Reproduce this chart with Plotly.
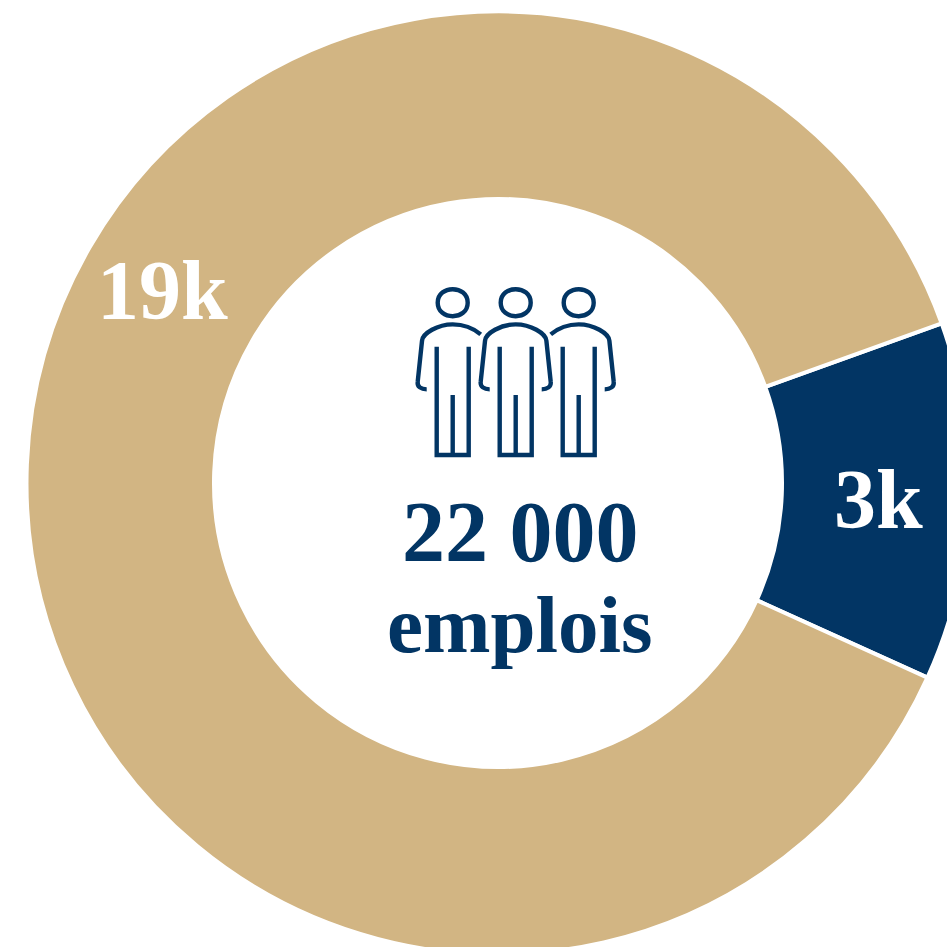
import plotly.graph_objects as go

segment_names = ["Segment bleu", "Segment or"]
segment_values = [2.7, 19.3]
segment_colors = ["#023564", "#D2B583"]
segment_labels = ["3k", "19k"]
total_label = "22 000"
unit_label = "emplois"

SIZE = 1000
CX, CY, R = 498, 483, 471.5
HOLE = 284 / 471.5
NAVY = "#023564"
SERIF = "Liberation Serif"


def person_path(cx, left_arm=True, right_arm=True):
    """Outline of one figure; offsets are in reference pixels from the figure's axis."""
    top, head_rx, head_ry = 302.7, 15, 13.5
    p = (f"M {cx-head_rx} {top} C {cx-head_rx} {top-18}, {cx+head_rx} {top-18}, {cx+head_rx} {top} "
         f"C {cx+head_rx} {top+18}, {cx-head_rx} {top+18}, {cx-head_rx} {top} Z ")
    y = lambda v: 280 + v / 3
    d = lambda v: v / 3
    if left_arm:
        p += (f"M {cx-d(78)} {y(328)} C {cx-d(95)} {y(328)}, {cx-d(107)} {y(320)}, {cx-d(105)} {y(305)} "
              f"L {cx-d(92)} {y(182)} C {cx-d(90)} {y(160)}, {cx-d(45)} {y(133)}, {cx} {y(133)} ")
    else:
        p += (f"M {cx-d(84)} {y(163)} C {cx-d(60)} {y(143)}, {cx-d(30)} {y(133)}, {cx} {y(133)} ")
    if right_arm:
        p += (f"C {cx+d(45)} {y(133)}, {cx+d(90)} {y(160)}, {cx+d(92)} {y(182)} "
              f"L {cx+d(105)} {y(305)} C {cx+d(107)} {y(320)}, {cx+d(95)} {y(328)}, {cx+d(78)} {y(328)} ")
    else:
        p += (f"C {cx+d(30)} {y(133)}, {cx+d(60)} {y(143)}, {cx+d(84)} {y(163)} ")
    p += f"M {cx-d(48)} {y(200)} L {cx-d(48)} {y(525)} L {cx+d(48)} {y(525)} L {cx+d(48)} {y(200)} "
    p += f"M {cx} {y(345)} L {cx} {y(525)}"
    return p


fig = go.Figure(
    go.Pie(
        labels=segment_names,
        values=segment_values,
        hole=HOLE,
        sort=False,
        direction="clockwise",
        rotation=70.2,
        marker=dict(colors=segment_colors, line=dict(color="white", width=4)),
        textinfo="none",
        hoverinfo="skip",
        showlegend=False,
        domain=dict(
            x=[(CX - R) / SIZE, (CX + R) / SIZE],
            y=[1 - (CY + R) / SIZE, 1 - (CY - R) / SIZE],
        ),
    )
)

shapes = [
    dict(type="path", xref="x", yref="y", path=person_path(cx, la, ra),
         line=dict(color=NAVY, width=4.4), fillcolor="rgba(0,0,0,0)")
    for cx, la, ra in [(452.7, True, False), (515.7, True, True), (578.7, False, True)]
]

text_items = [
    (segment_labels[0], 878, 499, 84, "white"),
    (segment_labels[1], 162, 290, 84, "white"),
    (total_label, 520, 532, 86, NAVY),
    (unit_label, 520, 625, 81, NAVY),
]
annotations = [
    dict(text=f"<b>{t}</b>", x=x, y=y, xref="x", yref="y", showarrow=False,
         xanchor="center", yanchor="middle", font=dict(family=SERIF, size=s, color=c))
    for t, x, y, s, c in text_items
]

fig.update_layout(
    width=SIZE,
    height=SIZE,
    autosize=False,
    margin=dict(l=0, r=0, t=0, b=0),
    paper_bgcolor="white",
    plot_bgcolor="rgba(0,0,0,0)",
    xaxis=dict(range=[0, SIZE], visible=False, fixedrange=True),
    yaxis=dict(range=[SIZE, 0], visible=False, fixedrange=True),
    shapes=shapes,
    annotations=annotations,
)

fig.write_html(
    "out.html",
    config=dict(displayModeBar=False, responsive=False),
    post_script="document.body.style.margin='0';document.documentElement.style.overflow='hidden';document.body.style.overflow='hidden';",
)
